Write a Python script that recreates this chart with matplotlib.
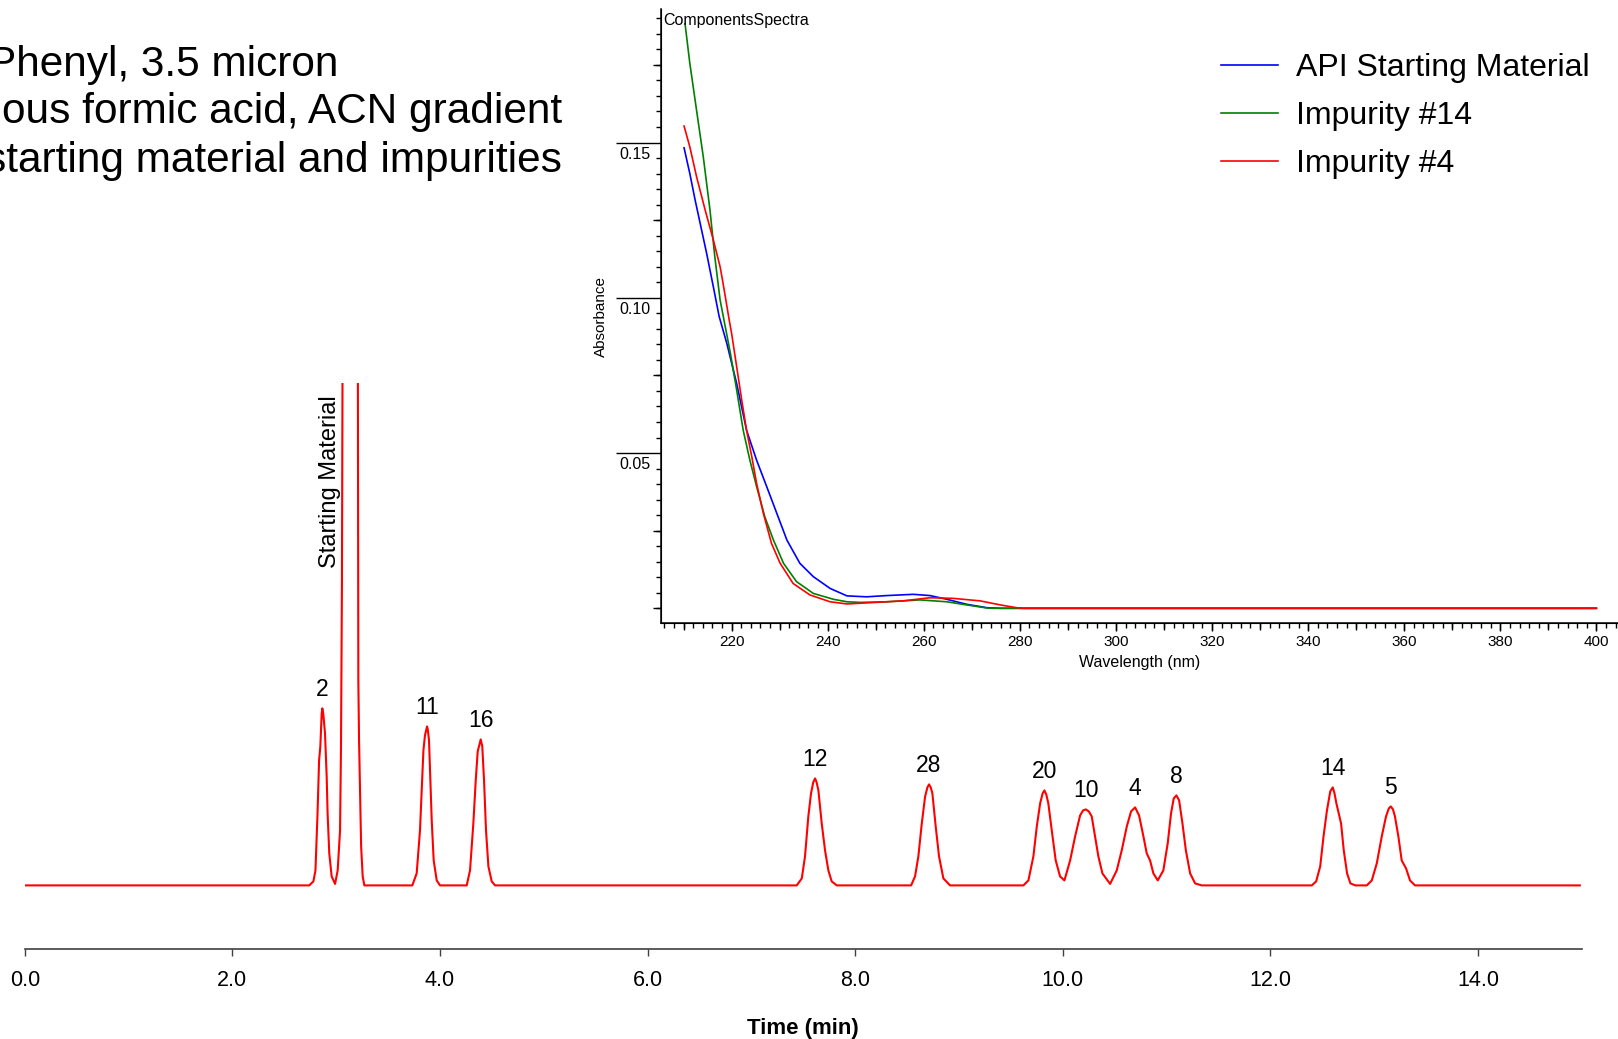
#!/usr/bin/env python3

import matplotlib

matplotlib.use("Agg")
import matplotlib.pyplot as plt
from matplotlib import font_manager
from matplotlib.ticker import FixedLocator, MultipleLocator
from matplotlib.transforms import ScaledTranslation

# chromatogram trace (time in min, signal in arbitrary units)
trace_time = [
    0.00,
    2.74, 2.78, 2.80, 2.82, 2.835, 2.847, 2.86, 2.866, 2.875, 2.892, 2.908, 2.917, 2.933, 2.956, 2.989,
    3.014, 3.037, 3.046, 3.055, 3.062, 3.135, 3.208, 3.213, 3.22, 3.24, 3.255, 3.271,
    3.733, 3.775, 3.807, 3.824, 3.84, 3.855, 3.868, 3.875, 3.882, 3.894, 3.907, 3.92, 3.939, 3.968, 4.0,
    4.257, 4.289, 4.321, 4.344, 4.363, 4.38, 4.392, 4.407, 4.424, 4.443, 4.466, 4.498, 4.53,
    7.436, 7.485, 7.516, 7.548, 7.574, 7.595, 7.613, 7.628, 7.645, 7.677, 7.709, 7.741, 7.773, 7.822,
    8.538, 8.576, 8.608, 8.641, 8.673, 8.695, 8.711, 8.727, 8.743, 8.775, 8.807, 8.849, 8.913,
    9.62, 9.668, 9.716, 9.749, 9.781, 9.805, 9.822, 9.84, 9.86, 9.893, 9.931, 9.973, 10.015,
    10.07, 10.118, 10.166, 10.195, 10.221, 10.25, 10.278, 10.31, 10.342, 10.381, 10.455,
    10.519, 10.567, 10.616, 10.657, 10.696, 10.734, 10.776, 10.808, 10.84, 10.872, 10.914,
    10.968, 11.01, 11.042, 11.068, 11.094, 11.12, 11.152, 11.185, 11.226, 11.274, 11.338,
    12.398, 12.44, 12.479, 12.511, 12.544, 12.576, 12.6, 12.617, 12.635, 12.68, 12.706, 12.738, 12.77, 12.818,
    12.928, 12.976, 13.024, 13.072, 13.113, 13.14, 13.159, 13.18, 13.199, 13.232, 13.264, 13.306, 13.344, 13.392,
    14.98,
]
trace_signal = [
    0,
    0, 4, 15, 72, 125, 139, 172, 177, 172, 152, 109, 72, 32, 9, 1.5,
    15, 55, 139, 300, 560, 2600, 560, 205, 145, 39, 9, 0,
    0, 12, 55, 95, 135, 150, 156, 159, 156, 145, 105, 65, 25, 5, 0,
    0, 15, 62, 105, 134, 141, 146, 139, 105, 55, 19, 4, 0,
    0, 7, 29, 69, 92, 103, 107, 103, 95, 62, 35, 15, 4, 0,
    0, 9, 29, 62, 89, 98, 101, 98, 92, 59, 29, 7, 0,
    0, 5, 29, 59, 82, 92, 95, 91, 82, 55, 25, 9, 5,
    25, 49, 70, 75, 76, 74, 69, 49, 29, 12, 1.5,
    15, 35, 59, 74, 78, 70, 49, 32, 25, 12, 5,
    15, 42, 72, 87, 90, 85, 62, 35, 12, 2, 0,
    0, 4, 19, 49, 75, 94, 98, 92, 82, 62, 35, 12, 2, 0,
    0, 5, 22, 49, 69, 77, 79, 76, 69, 49, 25, 17, 5, 0,
    0,
]

peak_names = ["2", "11", "16", "12", "28", "20", "10", "4", "8", "14", "5"]
peak_times = [2.866, 3.875, 4.392, 7.613, 8.711, 9.822, 10.221, 10.696, 11.094, 12.60, 13.159]
peak_heights = [177, 159, 146, 107, 101, 95, 76, 78, 90, 98, 79]

sm_label = "Starting Material"
sm_time = 3.135

time_ticks = [0, 2, 4, 6, 8, 10, 12, 14]
time_tick_labels = ["0.0", "2.0", "4.0", "6.0", "8.0", "10.0", "12.0", "14.0"]

title_lines = [
    "Phenyl, 3.5 micron",
    "ous formic acid, ACN gradient",
    "starting material and impurities",
]

# UV spectra of the components (wavelength in nm, absorbance)
api_nm = [210.1, 211.3, 212.4, 213.6, 214.8, 216.2, 217.4, 219.0, 221.05, 223.1, 225.2, 227.3, 229.4,
          231.5, 234.2, 237.0, 240.5, 244.0, 248.1, 252.3, 257.8, 261.3, 264.8, 268.9, 273.1, 275.9, 400]
api_abs = [0.1483, 0.1400, 0.1315, 0.1229, 0.1143, 0.1035, 0.0940, 0.0853, 0.0724, 0.0574, 0.0477, 0.0392,
           0.0306, 0.0220, 0.0145, 0.0102, 0.0064, 0.0040, 0.0037, 0.0041, 0.0045, 0.0041, 0.0029, 0.0013,
           0.0002, 0.0, 0.0]

imp14_nm = [210.3, 211.3, 212.7, 214.1, 215.5, 216.5, 217.6, 219.7, 221.05, 222.4, 223.8, 225.2, 226.9,
            228.7, 230.8, 233.5, 237.0, 241.2, 244.0, 246.8, 252.3, 259.2, 264.8, 268.9, 273.1, 274.5, 400]
imp14_abs = [0.1883, 0.1755, 0.1604, 0.1454, 0.1282, 0.1132, 0.0993, 0.0825, 0.0703, 0.0574, 0.0477, 0.0392,
             0.0295, 0.0220, 0.0145, 0.0086, 0.0048, 0.0029, 0.0021, 0.0019, 0.0021, 0.0027, 0.0021, 0.0011,
             0.0001, 0.0, 0.0]

imp4_nm = [210.1, 211.3, 212.7, 214.5, 216.2, 217.6, 218.1, 218.8, 219.5, 220.0, 221.05, 222.1, 223.1,
           224.2, 225.2, 226.6, 228.3, 230.1, 232.8, 236.3, 240.5, 244.0, 248.8, 255.7, 261.3, 266.1, 271.7,
           275.9, 279.3, 280.7, 400]
imp4_abs = [0.1553, 0.1486, 0.1390, 0.1282, 0.1186, 0.1100, 0.1057, 0.0993, 0.0928, 0.0885, 0.0778, 0.0671,
            0.0574, 0.0488, 0.0402, 0.0306, 0.0209, 0.0145, 0.0080, 0.0043, 0.0021, 0.0014, 0.0018, 0.0024,
            0.0034, 0.0032, 0.0024, 0.0011, 0.0002, 0.0, 0.0]

spectra_labels = ["API Starting Material", "Impurity #14", "Impurity #4"]
spectra_colors = ["#0000ff", "#008000", "#ff0000"]

wl_ticks = list(range(220, 401, 20))
wl_mid_ticks = list(range(210, 401, 10))
abs_ticks = [0.05, 0.10, 0.15]
abs_tick_labels = ["0.05", "0.10", "0.15"]
abs_mid_ticks = [0.0, 0.025, 0.075, 0.125, 0.175]

FIG_W, FIG_H = 1618, 1039


def px_rect(left, top, right, bottom):
    return [left / FIG_W, 1 - bottom / FIG_H, (right - left) / FIG_W, (bottom - top) / FIG_H]


def pick_axis_font():
    names = {f.name for f in font_manager.fontManager.ttflist}
    if "Liberation Sans Narrow" in names:
        return "Liberation Sans Narrow", 17
    return "Liberation Sans", 15.5


def plot_chromatogram(fig) -> None:
    tick_font, tick_size = pick_axis_font()
    ax = fig.add_axes(px_rect(24.8, 382.8, 1581.9, 949.3))
    ax.set_facecolor("none")
    ax.plot(trace_time, trace_signal, color="#ff0000", linewidth=1.5)
    ax.set_xlim(0, 15)
    ax.set_ylim(-63.9, 502.6)

    for side in ("left", "right", "top"):
        ax.spines[side].set_visible(False)
    ax.spines["bottom"].set_color("#404040")
    ax.spines["bottom"].set_linewidth(1.2)
    ax.set_yticks([])
    ax.set_xticks(time_ticks)
    ax.set_xticklabels(time_tick_labels, family=[tick_font, "DejaVu Sans"], fontsize=tick_size)
    ax.tick_params(axis="x", length=5, width=1.0, color="#404040", pad=10)

    ax.set_xlabel("Time (min)", family=[tick_font, "DejaVu Sans"], fontsize=tick_size + 0.5,
                  fontweight="bold")
    ax.xaxis.set_label_coords(0.5, -0.122)

    for name, t, h in zip(peak_names, peak_times, peak_heights):
        ax.annotate(name, xy=(t, h), xytext=(0, 5), textcoords="offset points",
                    ha="center", va="bottom", fontsize=16.5)

    ax.annotate(sm_label, xy=(sm_time, 404), xytext=(-14.5, 0), textcoords="offset points",
                rotation=90, ha="center", va="center", fontsize=17)


def plot_spectra(fig) -> None:
    ax = fig.add_axes(px_rect(661, 9.3, 1618, 623.3))
    ax.set_facecolor("none")

    series = [(api_nm, api_abs), (imp14_nm, imp14_abs), (imp4_nm, imp4_abs)]
    for (nm, ab), label, color in zip(series, spectra_labels, spectra_colors):
        ax.plot(nm, ab, color=color, linewidth=1.2, label=label)

    ax.set_xlim(205.3, 404.5)
    ax.set_ylim(-0.00483, 0.1929)
    ax.spines["top"].set_visible(False)
    ax.spines["right"].set_visible(False)
    for side in ("left", "bottom"):
        ax.spines[side].set_linewidth(1.1)

    ax.xaxis.set_major_locator(FixedLocator(wl_ticks))
    ax.xaxis.set_minor_locator(MultipleLocator(2))
    ax.tick_params(axis="x", which="major", length=6, width=1.0, labelsize=11, pad=2.5)
    ax.tick_params(axis="x", which="minor", length=3.5, width=1.0)

    ax.yaxis.set_major_locator(FixedLocator(abs_ticks))
    ax.set_yticklabels(abs_tick_labels)
    ax.yaxis.set_minor_locator(MultipleLocator(0.005))
    ax.tick_params(axis="y", which="major", length=32.4, width=1.0, labelsize=11.5, pad=-24.5)
    ax.tick_params(axis="y", which="minor", length=3.5, width=1.0)
    # labels sit just below the long major tick, as in the original software
    shift = ScaledTranslation(0, -3 / 72, fig.dpi_scale_trans)
    for lab in ax.get_yticklabels():
        lab.set_verticalalignment("top")
        lab.set_transform(lab.get_transform() + shift)

    sec_y = ax.secondary_yaxis("left")
    sec_y.set_yticks(abs_mid_ticks)
    sec_y.tick_params(length=6, width=1.0, labelleft=False)
    sec_x = ax.secondary_xaxis("bottom")
    sec_x.set_xticks(wl_mid_ticks)
    sec_x.tick_params(length=5, width=1.0, labelbottom=False)

    ax.set_xlabel("Wavelength (nm)", fontsize=11.5)
    ax.xaxis.set_label_coords(0.5, -0.052)
    ax.set_ylabel("Absorbance", fontsize=11)
    ax.yaxis.set_label_coords(-0.055, 0.5)

    ax.text(0.0026, 0.9816, "ComponentsSpectra", transform=ax.transAxes,
            ha="left", va="center", fontsize=11.5)

    ax.legend(loc="upper left", bbox_to_anchor=(1220.7 / FIG_W, 1 - 53 / FIG_H),
              bbox_transform=fig.transFigure, frameon=False, fontsize=23,
              handlelength=1.78, handletextpad=0.58, labelspacing=0.56,
              borderpad=0, borderaxespad=0)


def main() -> None:
    plt.rcParams["font.family"] = ["Liberation Sans", "DejaVu Sans"]
    fig = plt.figure(figsize=(FIG_W / 100, FIG_H / 100), dpi=100)

    plot_chromatogram(fig)
    plot_spectra(fig)

    title_right = [338.5, 562, 562]
    title_y = [65, 112, 161]
    for line, xr, yc in zip(title_lines, title_right, title_y):
        fig.text(xr / FIG_W, 1 - yc / FIG_H, line, ha="right", va="center", fontsize=30.5)

    fig.savefig("out.png", dpi=100)
    plt.close(fig)


if __name__ == "__main__":
    main()
